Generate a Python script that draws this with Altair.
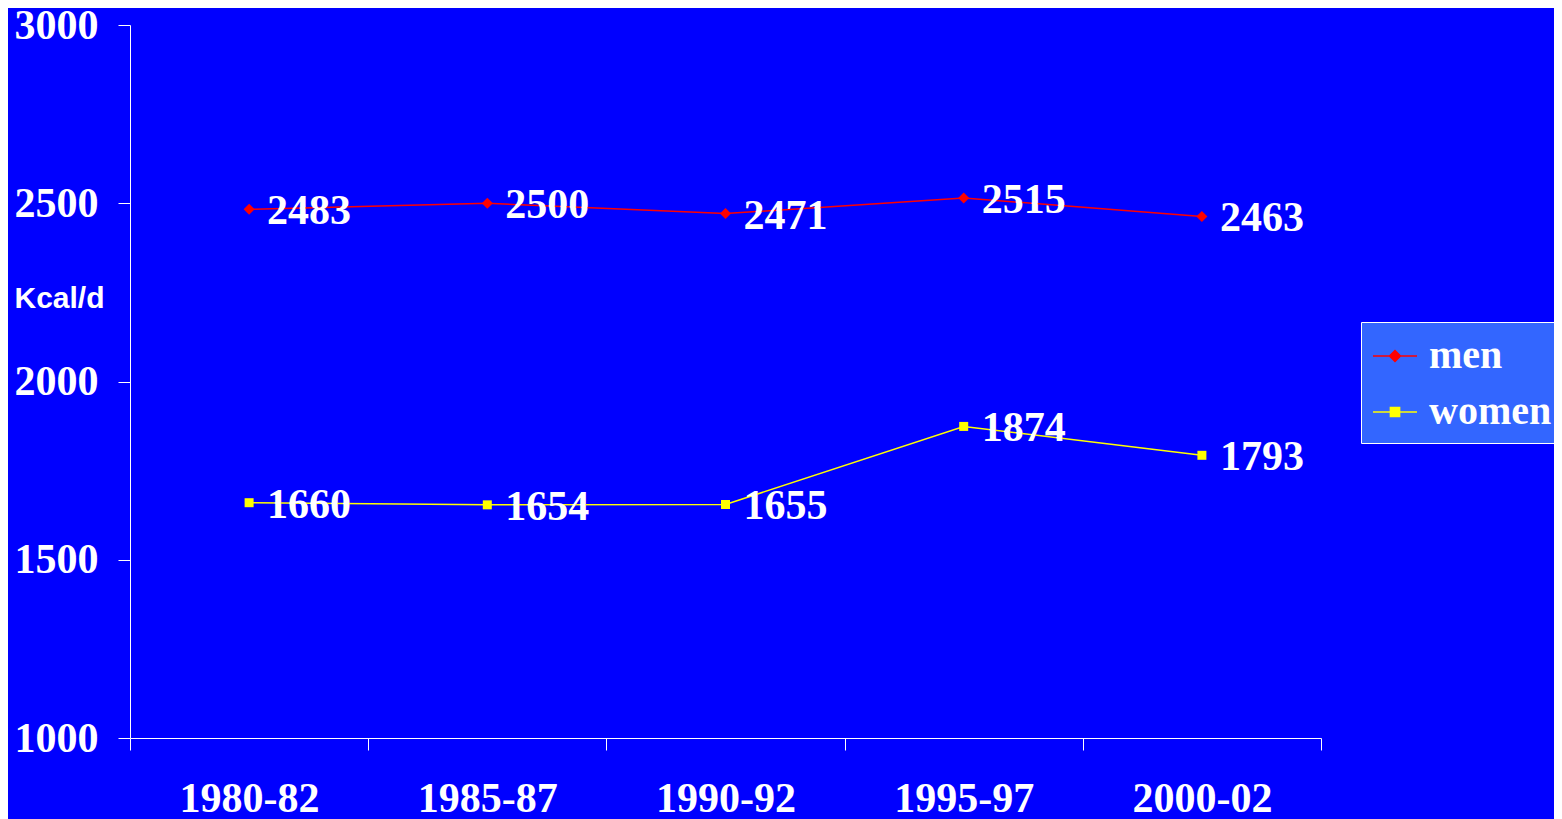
import altair as alt
import pandas as pd

years = ["1980-82", "1985-87", "1990-92", "1995-97", "2000-02"]
men = [2483, 2500, 2471, 2515, 2463]
women = [1660, 1654, 1655, 1874, 1793]
series_names = ["men", "women"]
series_colors = ["#FF0000", "#FFFF00"]
y_ticks = [1000, 1500, 2000, 2500, 3000]

rows = []
for y, v in zip(years, men):
    rows.append({"year": y, "series": "men", "value": v})
for y, v in zip(years, women):
    rows.append({"year": y, "series": "women", "value": v})
df = pd.DataFrame(rows)

SERIF = "Liberation Serif"
SANS = "Liberation Sans"
FS = 42

x_enc = alt.X(
    "year:N",
    sort=years,
    scale=alt.Scale(type="band", paddingInner=0, paddingOuter=0),
    axis=alt.Axis(
        title=None,
        tickBand="extent",
        tickSize=12,
        tickColor="white",
        domainColor="white",
        labelAngle=0,
        labelPadding=28,
        labelFont=SERIF,
        labelFontSize=FS,
        labelFontWeight="bold",
        labelColor="white",
        grid=False,
    ),
)
y_enc = alt.Y(
    "value:Q",
    scale=alt.Scale(domain=[1000, 3000], nice=False, zero=False),
    axis=alt.Axis(
        values=y_ticks,
        format="d",
        tickSize=12,
        tickColor="white",
        domainColor="white",
        labelPadding=20,
        labelFont=SERIF,
        labelFontSize=FS,
        labelFontWeight="bold",
        labelColor="white",
        labelBaseline="middle",
        grid=False,
        title="Kcal/d",
        titleAngle=0,
        titleAlign="left",
        titleBaseline="middle",
        titleX=-116,
        titleY=273,
        titleFont=SANS,
        titleFontSize=30,
        titleFontWeight="bold",
        titleColor="white",
    ),
)

men_sym = "M-1,0H1M-0.25,0L0,-0.25L0.25,0L0,0.25Z"
women_sym = "M-1,0H1M-0.21,-0.21H0.21V0.21H-0.21Z"

legend_def = alt.Legend(
    title=None,
    orient="none",
    legendX=1231,
    legendY=297,
    fillColor="#3366FF",
    strokeColor="white",
    padding=11,
    rowPadding=13,
    labelFont=SERIF,
    labelFontSize=40,
    labelFontWeight="bold",
    labelColor="white",
    labelOffset=11,
    labelLimit=300,
    symbolSize=1936,
    symbolStrokeWidth=1.5,
    symbolOpacity=1,
)

base = alt.Chart(df)

def series_layers(name, color, shape, size):
    sub = base.transform_filter(alt.datum.series == name)
    ln = sub.mark_line(strokeWidth=1.5, color=color).encode(x=x_enc, y=y_enc)
    pt = sub.mark_point(filled=True, opacity=1, shape=shape, size=size, color=color).encode(x=x_enc, y=y_enc)
    return [ln, pt]

men_layers = series_layers("men", series_colors[0], "diamond", 121)
women_layers = series_layers("women", series_colors[1], "square", 81)

legend_layer = base.transform_filter("false").mark_point(filled=True, opacity=1, strokeWidth=1.5).encode(
    x=x_enc,
    y=y_enc,
    color=alt.Color("series:N", scale=alt.Scale(domain=series_names, range=series_colors), legend=legend_def),
    stroke=alt.Stroke("series:N", scale=alt.Scale(domain=series_names, range=series_colors), legend=legend_def),
    shape=alt.Shape("series:N", scale=alt.Scale(domain=series_names, range=[men_sym, women_sym]), legend=legend_def),
)

labels = base.mark_text(
    align="left",
    baseline="middle",
    dx=18,
    dy=2,
    font=SERIF,
    fontSize=FS,
    fontWeight="bold",
    color="white",
).encode(x=x_enc, y=y_enc, text=alt.Text("value:Q", format="d"))

chart = (
    alt.layer(*men_layers, *women_layers, labels, legend_layer)
    .properties(
        width=1191,
        height=713,
        background="#0000FF",
        padding={"left": 122, "top": 17, "right": 233, "bottom": 81},
        autosize=alt.AutoSizeParams(type="none"),
    )
    .configure_view(stroke=None)
    .configure_axis(domainWidth=1, tickWidth=1)
)

chart.save("out.html", embed_options={"renderer": "svg", "actions": False})
